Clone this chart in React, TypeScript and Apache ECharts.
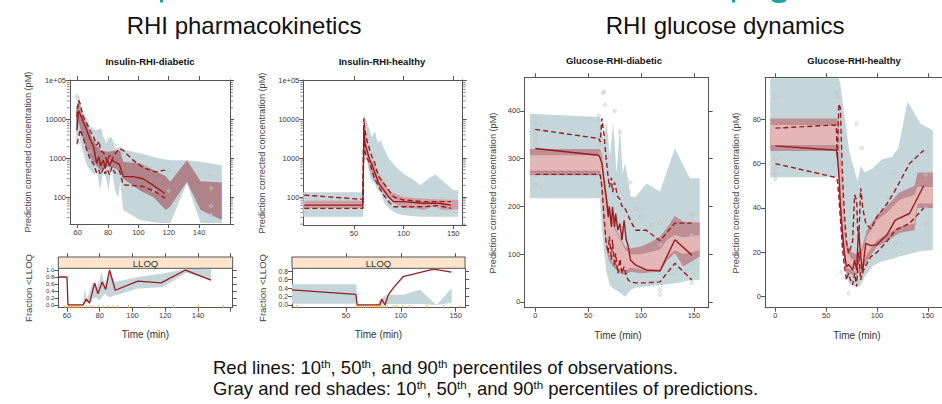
import React, { useEffect, useRef } from 'react';
import * as echarts from 'echarts';

// ---------- text ----------
const sectionTitles = ['RHI pharmacokinetics', 'RHI glucose dynamics'];
const panelTitles = ['Insulin-RHI-diabetic', 'Insulin-RHI-healthy', 'Glucose-RHI-diabetic', 'Glucose-RHI-healthy'];
const yLabelMain = 'Prediction corrected concentration (pM)';
const yLabelLloq = 'Fraction <LLOQ';
const xLabel = 'Time (min)';
const stripLabel = 'LLOQ';
const caption1 = 'Red lines: 10{s|th}, 50{s|th}, and 90{s|th} percentiles of observations.';
const caption2 = 'Gray and red shades: 10{s|th}, 50{s|th}, and 90{s|th} percentiles of predictions.';

// ---------- ticks ----------
const idXTicks = [60, 80, 100, 120, 140];
const ihXTicks = [50, 100, 150];
const gXTicks = [0, 50, 100, 150];
const gdYTicks = [0, 100, 200, 300, 400];
const ghYTicks = [0, 20, 40, 60, 80];
const l1XTicks = [60, 80, 100, 120, 140];
const l1XTickMarks = [60, 80, 100, 120, 140, 160];
const l1YTicks = [0, 0.2, 0.4, 0.6, 0.8, 1.0];
const l2XTicks = [50, 100, 150];
const l2YTicks = [0, 0.2, 0.4, 0.6, 0.8];
const logMinorMult = [2, 3, 4, 5, 6, 7, 8, 9];
const logDecades = [10, 100, 1000, 10000];

// ---------- Panel 1: Insulin-RHI-diabetic ----------
const idObsT = [59.5, 60.5, 61.5, 63.5, 66, 68, 70.5, 72.5, 74, 75, 77, 78, 79.5, 81, 82.5, 84.5, 87.5, 90, 96.5, 103, 111, 117.5];
const idObs50 = [5300, 17000, 14000, 9000, 5300, 3200, 2000, 750, 1100, 650, 900, 550, 950, 650, 900, 800, 700, 340, 340, 300, 190, 125];
const idObs10 = [2400, 3300, 5500, 3500, 1600, 1000, 700, 420, 500, 380, 550, 400, 520, 380, 600, 420, 480, 210, 200, 190, 140, 95];
const idObs90 = [11700, 31000, 26000, 12000, 7900, 5300, 3500, 2200, 2800, 1600, 1400, 1200, 820, 1200, 900, 1300, 1800, 1600, 900, 580, 450, 500];
const idGrayT = [59, 60.5, 62.5, 66, 69, 71.4, 72.5, 74.7, 77, 79, 80.2, 82.4, 84.6, 86.8, 88, 90, 101, 114, 121, 132, 141, 155];
const idGrayHi = [11700, 42000, 19000, 9600, 5900, 5300, 5300, 5900, 3600, 2400, 3000, 3600, 1800, 1900, 2000, 1700, 1350, 1000, 900, 900, 820, 670];
const idGrayLo = [2400, 4400, 2000, 670, 450, 370, 550, 150, 500, 280, 150, 600, 150, 100, 250, 47, 26, 22, 22, 230, 22, 22];
const idRedT = [59, 60.5, 63, 66, 70, 75, 80, 85, 88, 90, 101, 110, 118, 121, 132, 141, 155];
const idRedHi = [21000, 31000, 14000, 7200, 3000, 1600, 1480, 1600, 1600, 820, 750, 500, 350, 250, 900, 260, 240];
const idRedLo = [4800, 8700, 3600, 1600, 820, 500, 610, 550, 450, 300, 150, 100, 47, 58, 250, 47, 26];
const idDotT = [59.5, 60, 60.5, 61, 62, 64, 66, 70, 75, 80, 84, 90, 97, 105, 110, 120, 120, 148, 148, 148, 148, 60, 68];
const idDotV = [40000, 35000, 25000, 19000, 15000, 12000, 9000, 5500, 5000, 3000, 2200, 1500, 900, 600, 150, 500, 150, 350, 170, 60, 35, 2500, 1500];

// ---------- Panel 2: Insulin-RHI-healthy ----------
const ihObsT = [0, 59, 60, 61, 63, 66, 68, 70, 75, 80, 85, 90, 100, 120, 135, 148];
const ihObs50 = [62, 62, 6500, 2400, 1600, 900, 700, 500, 225, 150, 100, 76, 76, 69, 69, 62];
const ihObs90 = [112, 87, 10700, 5300, 2900, 1600, 1100, 900, 330, 225, 150, 100, 84, 76, 76, 76];
const ihObs10 = [51, 51, 3600, 1470, 1000, 740, 500, 330, 185, 112, 76, 56, 56, 56, 60, 51];
const ihGrayT = [-1, 59.4, 60, 63, 66, 68, 71, 74, 77, 80, 85, 92, 100, 110, 117, 125, 132, 140, 150, 155];
const ihGrayHi = [132, 132, 13000, 9000, 5000, 3500, 5000, 2500, 3000, 1800, 1000, 600, 400, 280, 200, 300, 380, 250, 150, 150];
const ihGrayLo = [31, 31, 1000, 900, 330, 250, 220, 150, 125, 76, 51, 38, 34, 32, 31, 31, 31, 31, 31, 31];
const ihRedT = [-1, 59.4, 60.5, 62, 66, 70, 75, 80, 85, 90, 100, 110, 120, 130, 140, 155];
const ihRedHi = [80, 80, 9600, 3600, 1100, 740, 400, 250, 150, 125, 100, 95, 92, 88, 86, 84];
const ihRedLo = [52, 52, 2400, 1500, 500, 275, 185, 125, 95, 69, 51, 51, 46, 56, 46, 48];
const ihDotT = [0, 0, 0, 60, 61, 62, 63, 65, 68, 70, 75, 80, 85, 90, 100, 110, 120, 135, 148];
const ihDotV = [120, 45, 70, 9000, 6000, 4000, 3000, 2000, 900, 1200, 350, 300, 180, 90, 110, 60, 80, 55, 70];

// ---------- Panel 3: Glucose-RHI-diabetic ----------
const gdObsT = [0, 60, 61.5, 63, 65, 67, 69, 70, 72, 73, 75, 76, 78, 80, 82, 84, 86, 88, 90, 95, 105, 118, 132, 148];
const gdObs50 = [321, 307, 300, 290, 255, 220, 178, 200, 157, 199, 157, 185, 150, 164, 130, 171, 130, 116, 88, 77, 67, 65, 130, 98];
const gdObs90 = [361, 342, 335, 384, 350, 300, 260, 240, 260, 230, 250, 240, 220, 215, 200, 200, 190, 180, 170, 150, 150, 128, 165, 165];
const gdObs10 = [267, 267, 265, 240, 178, 123, 102, 137, 88, 130, 74, 102, 60, 90, 60, 74, 55, 46, 42, 40, 40, 42, 81, 46];
const gdGrayT = [-5, 61, 64.3, 67.4, 70.6, 73.7, 76.9, 80, 82.6, 84.8, 87.9, 90.1, 94.9, 105.3, 117.9, 132, 146.2, 155.5];
const gdGrayHi = [394, 387, 339, 377, 304, 377, 269, 367, 269, 290, 255, 220, 220, 248, 231, 321, 259, 259];
const gdGrayLo = [217, 217, 120, 60, 35, 28, 24, 20, 15, 11, 18, 25, 30, 33, 35, 39, 45, 46];
const gdRedT = [-5, 61, 63, 65, 68, 70, 75, 80, 85, 90, 100, 110, 118, 125, 132, 140, 155.5];
const gdRedHi = [320, 320, 311, 255, 220, 185, 157, 137, 116, 112, 116, 126, 137, 157, 180, 168, 166];
const gdRedLo = [265, 265, 234, 157, 102, 85, 70, 60, 56, 63, 60, 62, 63, 88, 102, 74, 95];
const gdCoreT = [-5, 61, 63, 65, 68, 72, 78, 85, 90, 100, 110, 118, 125, 132, 140, 155.5];
const gdCoreHi = [307, 307, 295, 240, 200, 165, 140, 110, 100, 100, 105, 110, 130, 140, 135, 140];
const gdCoreLo = [275, 275, 250, 170, 115, 85, 70, 66, 72, 68, 68, 68, 95, 108, 100, 108];
const gdDotT = [0, 0, 0, 0, 0, 0, 0, 0, 0, 0, 60, 61, 62, 60, 61, 62, 60, 64, 65, 66, 75, 80, 90, 95, 100, 105, 110, 118, 118, 118, 118, 132, 132, 148, 148, 148, 148, 148, 148];
const gdDotV = [385, 375, 360, 350, 340, 330, 300, 290, 265, 245, 390, 380, 360, 350, 330, 310, 295, 437, 440, 413, 400, 355, 250, 195, 180, 150, 160, 165, 120, 25, 15, 130, 60, 185, 180, 170, 140, 80, 40];

// ---------- Panel 4: Glucose-RHI-healthy ----------
const ghObsT = [0, 60, 61, 62.5, 64, 66, 68, 70, 72, 74, 76, 78, 80, 81, 82, 84, 86, 87, 89, 94, 100, 110, 118, 132, 146];
const ghObs50 = [68, 66, 64, 55, 41, 29, 19.5, 13.5, 14.5, 13.5, 12, 16.5, 12, 22, 30, 18, 10.5, 16.5, 24, 23, 23.5, 28, 34.5, 37.5, 50];
const ghObs90 = [76, 77.4, 62, 87, 85, 55, 37, 25, 19.5, 22, 25, 45.9, 43.6, 30, 25.6, 48.9, 40, 37.6, 33, 30.5, 36, 42, 48, 60, 66];
const ghObs10 = [60, 53.7, 52.6, 45, 35, 22, 13.5, 7.5, 10.5, 7.5, 5.3, 10.5, 4.5, 13.5, 20, 7.5, 12, 12, 14, 18, 20, 25, 30, 33, 40];
const ghGrayT = [-5, 62, 64, 67, 70, 73, 76, 79, 81, 84, 88, 96, 105, 115, 121, 130, 143, 155];
const ghGrayHi = [98.5, 98.5, 96, 85, 75, 65, 60, 55, 52, 59, 56, 58, 62, 63, 67, 88, 78, 75];
const ghGrayLo = [53.8, 53.8, 33, 17, 9, 5.5, 5, 4.5, 4.5, 5.3, 9, 14, 16, 17, 18, 19, 20.5, 21];
const ghRedT = [-5, 62, 64, 66, 68, 70, 75, 80, 85, 90, 100, 110, 122, 137, 140, 155];
const ghRedHi = [80.3, 80.3, 63, 48, 31.6, 24, 20, 19, 22, 30, 36.8, 41, 47, 50, 56, 56];
const ghRedLo = [65.7, 65.7, 40, 25, 16.5, 10.5, 10, 9.8, 12, 16, 22.5, 25, 28.7, 30, 40, 40];
const ghCoreHi = [77.4, 77.4, 60, 45, 28, 21, 17, 16, 19, 27, 34.5, 38, 43.6, 46, 49.5, 49.5];
const ghCoreLo = [68.4, 68.4, 50, 33, 20, 13, 12, 11, 14, 19, 25.5, 28, 31.5, 33, 42, 42];
const ghDotT = [0, 0, 0, 0, 0, 0, 60, 61, 62, 63, 61, 60, 65, 72, 80, 85, 100, 110, 118, 118, 132, 148, 148, 148, 148];
const ghDotV = [90, 62, 58, 56, 55, 53, 92, 90, 85, 80, 70, 60, 11, 1.5, 78, 67, 38, 45, 56, 24, 43, 65, 55, 40, 33];

// ---------- Panel 5: LLOQ diabetic ----------
const l1LineT = [54.7, 60, 60.6, 69.8, 71.8, 73.8, 76.9, 78.9, 81.5, 83.6, 86, 89.5, 103.3, 117.5, 132.4, 148];
const l1LineV = [0.8, 0.8, 0, 0, 0.17, 0.05, 0.63, 0.32, 0.66, 0.44, 1.0, 0.42, 0.68, 0.63, 1.0, 0.71];
const l1BandT = [69.8, 70.8, 72.2, 73.8, 75.9, 77.9, 79.9, 80.9, 83, 86, 89.1, 103.3, 118.5, 132.8, 148];
const l1BandHi = [0.02, 0.47, 0.13, 0.4, 0.66, 0.51, 0.7, 0.95, 0.61, 0.98, 0.66, 0.8, 0.9, 1.04, 1.02];
const l1BandLo = [0, 0.02, 0.05, 0.13, 0.2, 0.2, 0.13, 0.2, 0.32, 0.22, 0.27, 0.47, 0.51, 0.92, 0.71];
const l1RugT = [58.6, 60.6, 61.5, 62.6, 63.5, 64.7, 65.5, 66.7, 67.5, 68.7, 69.8, 71.8, 73.8, 75.9, 79.5, 82, 85, 88, 91, 97.6, 110, 125, 140.3, 155.5];

// ---------- Panel 6: LLOQ healthy ----------
const l2LineT = [0.5, 59, 60.3, 81, 82.5, 85.6, 88.6, 93, 102, 130, 146];
const l2LineV = [0.36, 0.25, 0, 0, 0.14, 0, 0.24, 0.4, 0.67, 0.85, 0.78];
const l2BandT = [0.5, 59.5, 60, 78, 80, 87, 102, 117.5, 132.7, 146.4];
const l2BandHi = [0.49, 0.49, 0, 0, 0.1, 0.24, 0.24, 0.36, 0, 0.4];
const l2BandLo = [0.03, 0.03, 0, 0, 0, 0.02, 0.02, 0.02, 0, 0.05];
const l2RugT = [5, 59.7, 61, 62.5, 64, 66, 68, 70, 72, 74, 76, 78, 80, 82, 84, 86, 87.5, 93, 96, 102, 108, 123.5, 138.8, 154];

// ---------- styling ----------
const FONT = 'Liberation Sans';
const AX = '#555555';
const LAB = '#3a3a3a';
const LINE = '#981b1e';
const GRAY = '#c5d6da';
const MAUVE = '#bd8f95';
const MAUVE_DARK = '#b0838b';
const ROSE = '#cf9ea4';
const CORE = '#e4b6b6';

type Panel = {
  grid: { left: number; top: number; width: number; height: number };
  x: [number, number];
  xTicks: number[];
  xLabels: number[];
  y: [number, number];
  log?: boolean;
  yTicks?: number[];
  yFmt?: (v: number) => string;
  yLabelSize?: number;
  topOffset?: number;
};

const panels: Panel[] = [
  { grid: { left: 70, top: 80, width: 160, height: 144 }, x: [54.9, 160.4], xTicks: idXTicks, xLabels: idXTicks, y: [20.6, 103600], log: true },
  { grid: { left: 303.3, top: 80, width: 159.4, height: 145 }, x: [-1, 159.5], xTicks: ihXTicks, xLabels: ihXTicks, y: [19, 104000], log: true },
  { grid: { left: 524.3, top: 77.3, width: 184.4, height: 230.4 }, x: [-10.4, 164], xTicks: gXTicks, xLabels: gXTicks, y: [-12, 470], yTicks: gdYTicks },
  { grid: { left: 765, top: 77.3, width: 199, height: 230.4 }, x: [-10.2, 164], xTicks: gXTicks, xLabels: gXTicks, y: [-4.96, 98.9], yTicks: ghYTicks },
  { grid: { left: 58.3, top: 268.3, width: 174.4, height: 39.4 }, x: [54.7, 161.2], xTicks: l1XTickMarks, xLabels: l1XTicks, y: [-0.08, 1.05], yTicks: l1YTicks, yFmt: (v) => v.toFixed(1), yLabelSize: 6, topOffset: 11 },
  { grid: { left: 292, top: 268.3, width: 173, height: 39.4 }, x: [0.8, 158.5], xTicks: l2XTicks, xLabels: l2XTicks, y: [-0.065, 0.87], yTicks: l2YTicks, yFmt: (v) => v.toFixed(1), yLabelSize: 6.8, topOffset: 11 },
];

const lineStyle = { color: AX, width: 1 };
const labelStyle = { fontSize: 7.5, color: LAB, fontFamily: FONT };

function buildAxes() {
  const xAxis: any[] = [];
  const yAxis: any[] = [];
  panels.forEach((p, g) => {
    const baseX = {
      type: 'value', gridIndex: g, min: p.x[0], max: p.x[1],
      splitLine: { show: false },
      axisLine: { show: true, onZero: false, lineStyle },
    };
    xAxis.push({
      ...baseX, position: 'bottom',
      axisTick: { show: true, length: 4, customValues: p.xTicks, lineStyle },
      axisLabel: { show: true, customValues: p.xLabels, margin: 4, ...labelStyle },
    });
    xAxis.push({
      ...baseX, position: 'top', offset: p.topOffset || 0,
      axisTick: { show: true, length: 4, customValues: p.xTicks, lineStyle },
      axisLabel: { show: false },
    });
    if (p.log) {
      const baseY = {
        type: 'log', logBase: 10, gridIndex: g, min: p.y[0], max: p.y[1],
        splitLine: { show: false }, minorTick: { show: false },
        axisLine: { show: true, onZero: false, lineStyle },
        axisTick: { show: true, length: 4, lineStyle },
      };
      yAxis.push({
        ...baseY, position: 'left',
        axisLabel: {
          show: true, showMinLabel: false, showMaxLabel: false, margin: 4, ...labelStyle,
          formatter: (v: number) => (v >= 99999 ? '1e+05' : String(Math.round(v))),
        },
      });
      yAxis.push({ ...baseY, position: 'right', axisLabel: { show: false } });
    } else {
      const baseY = {
        type: 'value', gridIndex: g, min: p.y[0], max: p.y[1],
        splitLine: { show: false },
        axisLine: { show: true, onZero: false, lineStyle },
        axisTick: { show: true, length: 4, customValues: p.yTicks, lineStyle },
      };
      yAxis.push({
        ...baseY, position: 'left',
        axisLabel: {
          show: true, customValues: p.yTicks, margin: 4, ...labelStyle,
          fontSize: p.yLabelSize || labelStyle.fontSize, lineHeight: p.yLabelSize || 9,
          hideOverlap: false,
          formatter: p.yFmt ? p.yFmt : (v: number) => String(v),
        },
      });
      yAxis.push({ ...baseY, position: 'right', axisLabel: { show: false } });
    }
  });
  return { xAxis, yAxis };
}

function zip(t: number[], v: number[]) {
  return t.map((x, i) => [x, v[i]]);
}

function bandSeries(g: number, t: number[], lo: number[], hi: number[], color: string, z: number) {
  const data = t.map((x, i) => [x, lo[i], hi[i]]);
  return {
    type: 'custom', xAxisIndex: 2 * g, yAxisIndex: 2 * g, data, z, silent: true, clip: true,
    encode: { x: 0, y: [1, 2] },
    renderItem: (params: any, api: any) => {
      if (params.dataIndex !== 0) return null;
      const top = data.map((d) => api.coord([d[0], d[2]]));
      const bot = data.map((d) => api.coord([d[0], d[1]])).reverse();
      return { type: 'polygon', shape: { points: top.concat(bot) }, style: { fill: color } };
    },
  };
}

function lineSeries(g: number, t: number[], v: number[], dashed: boolean, width = 1.4) {
  return {
    type: 'line', xAxisIndex: 2 * g, yAxisIndex: 2 * g, data: zip(t, v),
    showSymbol: false, symbol: 'none', silent: true, z: 10, clip: true,
    lineStyle: { color: LINE, width, type: dashed ? [5, 3] : 'solid' },
  };
}

function dotSeries(g: number, t: number[], v: number[]) {
  return {
    type: 'scatter', xAxisIndex: 2 * g, yAxisIndex: 2 * g, data: zip(t, v),
    symbol: 'circle', symbolSize: 3.5, silent: true, z: 6,
    itemStyle: { color: 'rgba(205,205,205,0.45)', borderColor: '#bdbdbd', borderWidth: 0.6 },
  };
}

function rugSeries(g: number, t: number[], y: number) {
  return {
    type: 'scatter', xAxisIndex: 2 * g, yAxisIndex: 2 * g, data: t.map((x) => [x, y]),
    symbol: 'rect', symbolSize: [1.2, 3], silent: true, z: 8,
    itemStyle: { color: '#f0a02a' },
  };
}

function minorTickSeries(g: number) {
  const p = panels[g];
  const vals: number[] = [];
  logDecades.forEach((d) => logMinorMult.forEach((m) => {
    const v = d * m;
    if (v > p.y[0] && v < p.y[1]) vals.push(v);
  }));
  const mk = (xEdge: number, side: number) => ({
    type: 'scatter', xAxisIndex: 2 * g, yAxisIndex: 2 * g, data: vals.map((v) => [xEdge, v]),
    symbol: 'rect', symbolSize: [2.5, 0.9], symbolOffset: [side * 1.7, 0], clip: false, silent: true, z: 12,
    itemStyle: { color: AX },
  });
  return [mk(p.x[0], -1), mk(p.x[1], 1)];
}

function txt(x: number, y: number, text: string, font: string, opts: any = {}) {
  return {
    type: 'text', x, y, rotation: opts.rotation || 0, silent: true, z: 50,
    style: {
      text, font, fill: opts.fill || '#222',
      textAlign: opts.align || 'center', textVerticalAlign: 'middle',
    },
  };
}

function buildOption() {
  const { xAxis, yAxis } = buildAxes();
  const grid = panels.map((p) => ({ ...p.grid, containLabel: false }));
  const series: any[] = [
    // panel 1
    bandSeries(0, idGrayT, idGrayLo, idGrayHi, GRAY, 1),
    bandSeries(0, idRedT, idRedLo, idRedHi, MAUVE_DARK, 2),
    dotSeries(0, idDotT, idDotV),
    lineSeries(0, idObsT, idObs10, true),
    lineSeries(0, idObsT, idObs90, true),
    lineSeries(0, idObsT, idObs50, false),
    ...minorTickSeries(0),
    // panel 2
    bandSeries(1, ihGrayT, ihGrayLo, ihGrayHi, GRAY, 1),
    bandSeries(1, ihRedT, ihRedLo, ihRedHi, ROSE, 2),
    dotSeries(1, ihDotT, ihDotV),
    lineSeries(1, ihObsT, ihObs10, true),
    lineSeries(1, ihObsT, ihObs90, true),
    lineSeries(1, ihObsT, ihObs50, false),
    ...minorTickSeries(1),
    // panel 3
    bandSeries(2, gdGrayT, gdGrayLo, gdGrayHi, GRAY, 1),
    bandSeries(2, gdRedT, gdRedLo, gdRedHi, MAUVE, 2),
    bandSeries(2, gdCoreT, gdCoreLo, gdCoreHi, CORE, 3),
    dotSeries(2, gdDotT, gdDotV),
    lineSeries(2, gdObsT, gdObs10, true),
    lineSeries(2, gdObsT, gdObs90, true),
    lineSeries(2, gdObsT, gdObs50, false),
    // panel 4
    bandSeries(3, ghGrayT, ghGrayLo, ghGrayHi, GRAY, 1),
    bandSeries(3, ghRedT, ghRedLo, ghRedHi, MAUVE, 2),
    bandSeries(3, ghRedT, ghCoreLo, ghCoreHi, CORE, 3),
    dotSeries(3, ghDotT, ghDotV),
    lineSeries(3, ghObsT, ghObs10, true),
    lineSeries(3, ghObsT, ghObs90, true),
    lineSeries(3, ghObsT, ghObs50, false),
    // LLOQ panels
    bandSeries(4, l1BandT, l1BandLo, l1BandHi, GRAY, 1),
    lineSeries(4, l1LineT, l1LineV, false, 1.3),
    rugSeries(4, l1RugT, -0.05),
    bandSeries(5, l2BandT, l2BandLo, l2BandHi, GRAY, 1),
    lineSeries(5, l2LineT, l2LineV, false, 1.3),
    rugSeries(5, l2RugT, -0.04),
  ];

  const f = (size: number, bold = false) => `${bold ? 'bold ' : ''}${size}px "${FONT}", Arial, sans-serif`;
  const captionStyle = (text: string) => ({
    text, fontSize: 18.5, fontFamily: FONT, fill: '#111', textAlign: 'left', textVerticalAlign: 'middle',
    rich: { s: { fontSize: 11.5, fontFamily: FONT, fill: '#111', verticalAlign: 'top' } },
  });
  const graphic: any[] = [
    // teal fragments of a cut-off heading
    { type: 'rect', shape: { x: 160, y: 0, width: 3, height: 2.5 }, style: { fill: '#1aa39a' }, silent: true },
    { type: 'rect', shape: { x: 732, y: 0, width: 3, height: 2.5 }, style: { fill: '#1aa39a' }, silent: true },
    { type: 'ellipse', shape: { cx: 779, cy: 0.5, rx: 7, ry: 2.5 }, style: { fill: '#1aa39a' }, silent: true },
    txt(244, 25, sectionTitles[0], f(24), { fill: '#111' }),
    txt(725, 25, sectionTitles[1], f(24), { fill: '#111' }),
    txt(150, 61, panelTitles[0], f(9.5, true), { fill: '#111' }),
    txt(382, 61, panelTitles[1], f(9.5, true), { fill: '#111' }),
    txt(614, 60, panelTitles[2], f(9.5, true), { fill: '#111' }),
    txt(854, 60, panelTitles[3], f(9.5, true), { fill: '#111' }),
    txt(28, 152, yLabelMain, f(9.2), { rotation: Math.PI / 2, fill: '#444' }),
    txt(262, 153, yLabelMain, f(9.2), { rotation: Math.PI / 2, fill: '#444' }),
    txt(493, 193, yLabelMain, f(9.2), { rotation: Math.PI / 2, fill: '#444' }),
    txt(736, 193, yLabelMain, f(9.2), { rotation: Math.PI / 2, fill: '#444' }),
    txt(28, 288, yLabelLloq, f(9.5), { rotation: Math.PI / 2, fill: '#444' }),
    txt(262, 288, yLabelLloq, f(9.5), { rotation: Math.PI / 2, fill: '#444' }),
    txt(145.5, 334, xLabel, f(10), { fill: '#333' }),
    txt(378.5, 334, xLabel, f(10), { fill: '#333' }),
    txt(618, 335, xLabel, f(10), { fill: '#333' }),
    txt(857, 335, xLabel, f(10), { fill: '#333' }),
    // strips
    { type: 'rect', shape: { x: 58.3, y: 257, width: 174.4, height: 11.3 }, style: { fill: '#ffe5cc', stroke: AX, lineWidth: 1 }, silent: true, z: 40 },
    { type: 'rect', shape: { x: 292, y: 257, width: 173, height: 11.3 }, style: { fill: '#ffe5cc', stroke: AX, lineWidth: 1 }, silent: true, z: 40 },
    txt(145.5, 263, stripLabel, f(9.5), { fill: '#333' }),
    txt(378.5, 263, stripLabel, f(9.5), { fill: '#333' }),
    // caption
    { type: 'text', x: 213, y: 367, silent: true, z: 50, style: captionStyle(caption1) },
    { type: 'text', x: 213, y: 388, silent: true, z: 50, style: captionStyle(caption2) },
  ];

  return {
    animation: false,
    backgroundColor: '#ffffff',
    grid, xAxis, yAxis, series, graphic,
  };
}

export default function App() {
  const ref = useRef<HTMLDivElement>(null);
  useEffect(() => {
    if (!ref.current) return;
    const chart = echarts.init(ref.current, undefined, { renderer: 'svg' });
    chart.setOption(buildOption() as any);
    return () => chart.dispose();
  }, []);
  return (
    <div
      ref={ref}
      style={{ position: 'fixed', left: 0, top: 0, width: 942, height: 404, background: '#fff' }}
    />
  );
}
